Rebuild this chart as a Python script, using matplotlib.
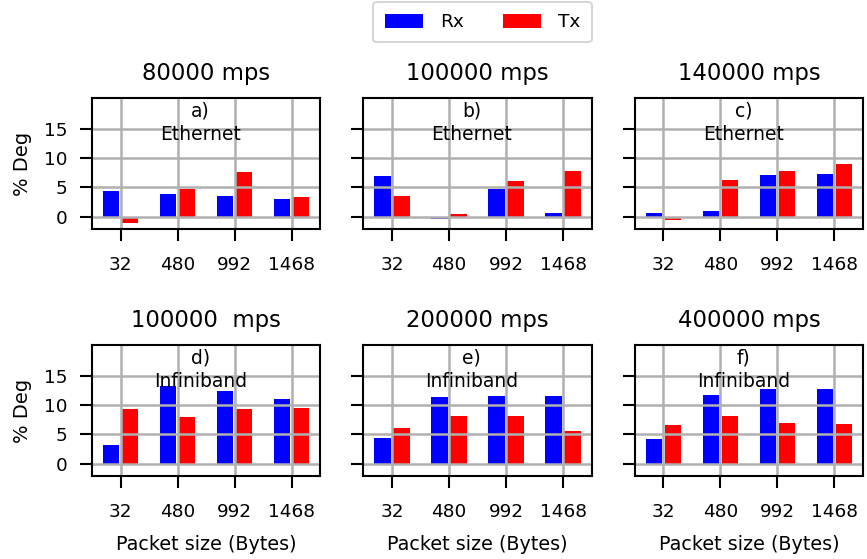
import numpy as np
import matplotlib
matplotlib.use("Agg")
import matplotlib.pyplot as plt

packet_sizes = ["32", "480", "992", "1468"]

titles = ["80000 mps", "100000 mps", "140000 mps",
          "100000  mps", "200000 mps", "400000 mps"]
tags = ["a)\nEthernet", "b)\nEthernet", "c)\nEthernet",
        "d)\nInfiniband", "e)\nInfiniband", "f)\nInfiniband"]

# % degradation per packet size, one list per panel
rx_a = [4.4, 3.9, 3.5, 3.0]
tx_a = [-1.0, 4.7, 7.6, 3.35]
rx_b = [6.9, -0.3, 4.7, 0.6]
tx_b = [3.5, 0.45, 6.1, 7.8]
rx_c = [0.6, 1.0, 7.1, 7.3]
tx_c = [-0.6, 6.25, 7.8, 9.0]
rx_d = [3.25, 13.3, 12.3, 11.1]
tx_d = [9.4, 8.0, 9.4, 9.55]
rx_e = [4.4, 11.4, 11.6, 11.6]
tx_e = [6.1, 8.2, 8.2, 5.6]
rx_f = [4.25, 11.75, 12.8, 12.8]
tx_f = [6.65, 8.2, 7.0, 6.8]

rx_all = [rx_a, rx_b, rx_c, rx_d, rx_e, rx_f]
tx_all = [tx_a, tx_b, tx_c, tx_d, tx_e, tx_f]

plt.rcParams["axes.linewidth"] = 1.5

fig, axes = plt.subplots(2, 3, figsize=(8.67, 5.59), dpi=100)
fig.subplots_adjust(left=0.1061, right=0.9954, top=0.8247, bottom=0.1485,
                    wspace=0.19, hspace=0.885)

x = np.arange(len(packet_sizes))
width = 0.29

for i, ax in enumerate(axes.flat):
    rx_bars = ax.bar(x - 0.165, rx_all[i], width, color="#0000ff", label="Rx")
    tx_bars = ax.bar(x + 0.165, tx_all[i], width, color="#ff0000", label="Tx")
    ax.grid(True, color="#b0b0b0", linewidth=1.8)
    ax.set_xlim(-0.5, 3.5)
    ax.set_ylim(-2.05, 20.2)
    ax.set_xticks(x)
    ax.set_xticklabels(packet_sizes)
    ax.set_yticks([0, 5, 10, 15])
    ax.tick_params(length=8.5, width=1.5, labelsize=13.3)
    ax.tick_params(axis="x", pad=11)
    ax.tick_params(axis="y", pad=9)
    ax.set_title(titles[i], fontsize=16.4, pad=13)
    ax.text(1.4, 16, tags[i], ha="center", va="center", fontsize=13.5,
            linespacing=1.3)
    if i % 3 == 0:
        ax.set_ylabel("% Deg", fontsize=14, labelpad=9)
    else:
        ax.set_yticklabels([])
    if i >= 3:
        ax.set_xlabel("Packet size (Bytes)", fontsize=13.8, labelpad=10)

leg = fig.legend([rx_bars, tx_bars], ["Rx", "Tx"], loc="upper center",
                 bbox_to_anchor=(482.5 / 867, 0.996), borderaxespad=0,
                 ncol=2, fontsize=13.3, handlelength=2.1, handleheight=0.75,
                 columnspacing=2.1, handletextpad=0.9, borderpad=0.6)
leg.get_frame().set_linewidth(1.5)

fig.savefig("out.png", dpi=100)
